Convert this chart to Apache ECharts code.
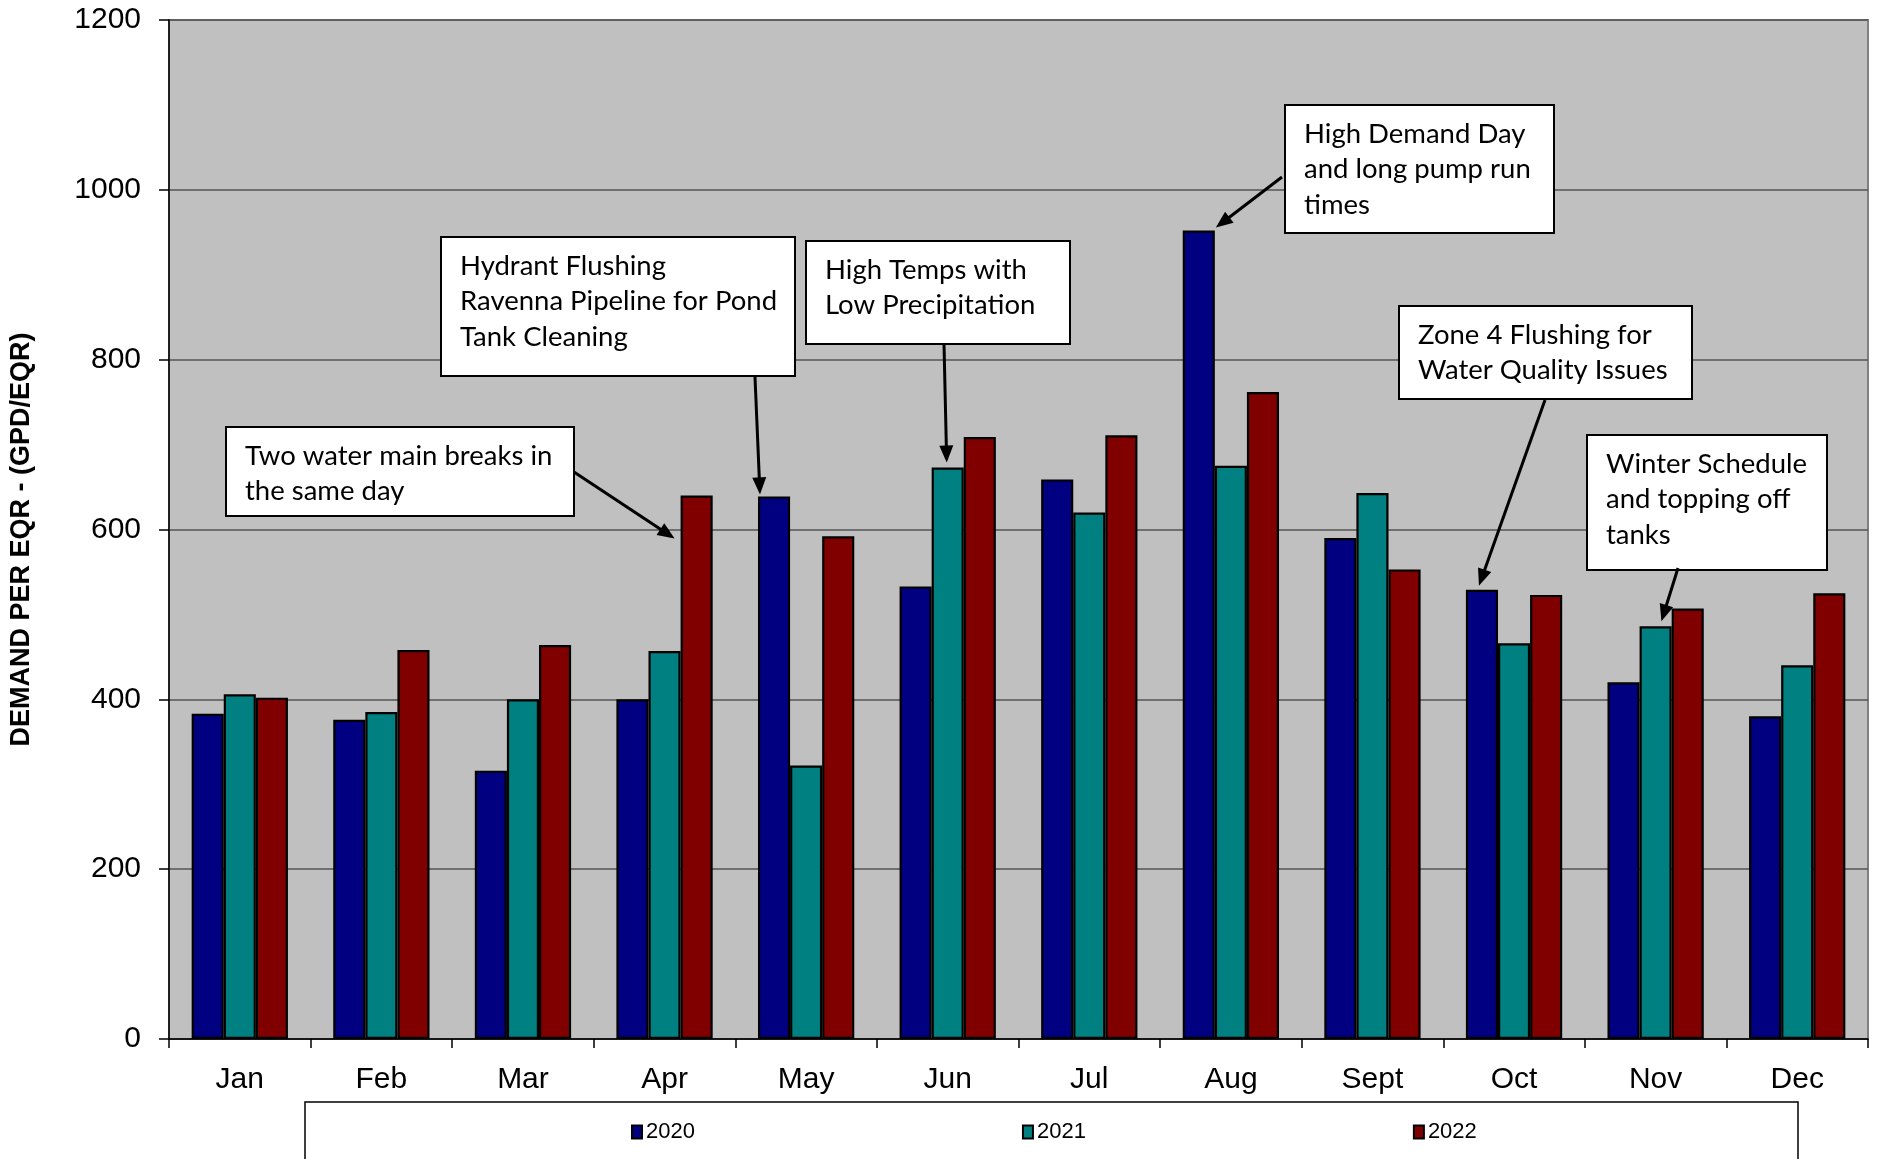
<!DOCTYPE html>
<html>
<head>
<meta charset="utf-8">
<script src="https://cdn.jsdelivr.net/npm/echarts@6/dist/echarts.min.js"></script>
<style>
  html, body { margin: 0; padding: 0; background: #ffffff; }
  #chart { width: 1877px; height: 1159px; }
</style>
</head>
<body>
<div id="chart"></div>
<script>
// Monthly demand per EQR (GPD/EQR) for three years
const months = ['Jan', 'Feb', 'Mar', 'Apr', 'May', 'Jun', 'Jul', 'Aug', 'Sept', 'Oct', 'Nov', 'Dec'];
const years = ['2020', '2021', '2022'];
const demand2020 = [383, 376, 316, 400, 639, 533, 659, 952, 590, 529, 420, 380];
const demand2021 = [406, 385, 400, 457, 322, 673, 620, 675, 643, 466, 486, 440];
const demand2022 = [402, 458, 464, 640, 592, 709, 711, 762, 553, 523, 507, 525];
const yAxisRange = { min: 0, max: 1200, interval: 200 };

// Callout notes: text and the bar (series index + month) each one points at
const noteTexts = [
  ['Two water main breaks in', 'the same day'],
  ['Hydrant Flushing', 'Ravenna Pipeline for Pond', 'Tank Cleaning'],
  ['High Temps with', 'Low Precipitation'],
  ['High Demand Day', 'and long pump run', 'times'],
  ['Zone 4 Flushing for', 'Water Quality Issues'],
  ['Winter Schedule', 'and topping off', 'tanks']
];
const noteTargets = [
  { series: 2, month: 'Apr' },
  { series: 0, month: 'May' },
  { series: 1, month: 'Jun' },
  { series: 0, month: 'Aug' },
  { series: 0, month: 'Oct' },
  { series: 1, month: 'Nov' }
];

// Callout layout (pixels): box, arrow tail, and arrow tip offset relative to the bar
// tip = (barLeft + fx * barWidth + dx, barTop + dy)
const noteLayout = [
  { box: [226, 427, 348, 89],  tail: [574, 472],  fx: 0,   dx: -6, dy: 43 },
  { box: [441, 237, 354, 139], tail: [755, 377],  fx: 0,   dx: 2,  dy: -2 },
  { box: [806, 241, 264, 103], tail: [944, 344],  fx: 0.5, dx: -1, dy: -5 },
  { box: [1285, 105, 269, 128], tail: [1282, 177], fx: 1,  dx: 1,  dy: -3 },
  { box: [1399, 306, 293, 93], tail: [1545, 400], fx: 0.5, dx: -3, dy: -4 },
  { box: [1587, 435, 240, 135], tail: [1678, 568], fx: 0.68, dx: 0, dy: -5 }
];

const seriesData = [demand2020, demand2021, demand2022];
const seriesColors = ['#000080', '#008080', '#800000'];
const BAR_CATEGORY_GAP = 0.32;

const chart = echarts.init(document.getElementById('chart'), null, { renderer: 'canvas' });

const option = {
  animation: false,
  backgroundColor: '#ffffff',
  grid: {
    left: 169, right: 9, top: 20, bottom: 120,
    show: true,
    backgroundColor: '#c0c0c0',
    borderColor: '#808080',
    borderWidth: 2
  },
  legend: {
    data: years,
    left: 631,
    top: 1121,
    padding: 0,
    itemGap: 327,
    itemWidth: 10,
    itemHeight: 13,
    icon: 'rect',
    textStyle: { fontFamily: 'Liberation Sans', fontSize: 22, color: '#000', padding: [0, 0, 0, -1] }
  },
  xAxis: {
    type: 'category',
    data: months,
    boundaryGap: true,
    axisLine: { show: true, lineStyle: { color: '#000', width: 1.5 } },
    axisTick: { show: true, length: 9, alignWithLabel: false, lineStyle: { color: '#000', width: 1.5 } },
    axisLabel: { fontFamily: 'Liberation Sans', fontSize: 30, color: '#000', margin: 26 },
    splitLine: { show: false }
  },
  yAxis: {
    type: 'value',
    min: yAxisRange.min,
    max: yAxisRange.max,
    interval: yAxisRange.interval,
    name: 'DEMAND PER EQR - (GPD/EQR)',
    nameLocation: 'middle',
    nameGap: 134,
    nameTextStyle: {
      fontFamily: 'Liberation Sans', fontSize: 27, fontWeight: 'bold', color: '#000',
      padding: [0, 20, 0, 0]
    },
    axisLine: { show: true, lineStyle: { color: '#000', width: 1.5 } },
    axisTick: { show: true, length: 10, lineStyle: { color: '#000', width: 1.5 } },
    axisLabel: {
      fontFamily: 'Liberation Sans', fontSize: 30, color: '#000', margin: 28,
      formatter: (v) => String(v)
    },
    splitLine: { show: true, lineStyle: { color: '#555555', width: 1.5 } }
  },
  series: years.map((y, i) => ({
    name: y,
    type: 'bar',
    data: seriesData[i],
    barGap: '0%',
    barCategoryGap: (BAR_CATEGORY_GAP * 100) + '%',
    itemStyle: { color: seriesColors[i], borderColor: '#000', borderWidth: 2.2 },
    emphasis: { disabled: true }
  }))
};

chart.setOption(option);

// Build callout boxes and arrows, anchoring each arrow tip to its bar via the axes
function buildNotes() {
  const elements = [];
  // legend frame
  elements.push({
    type: 'rect', z: 0, silent: true,
    shape: { x: 305, y: 1102, width: 1493, height: 80 },
    style: { fill: '#ffffff', stroke: '#000', lineWidth: 1.5 }
  });

  const c0 = chart.convertToPixel({ xAxisIndex: 0 }, months[0]);
  const c1 = chart.convertToPixel({ xAxisIndex: 0 }, months[1]);
  const band = c1 - c0;
  const groupW = band * (1 - BAR_CATEGORY_GAP);
  const barW = groupW / seriesData.length;

  noteTexts.forEach((lines, k) => {
    const t = noteTargets[k];
    const L = noteLayout[k];
    const mi = months.indexOf(t.month);
    const cx = chart.convertToPixel({ xAxisIndex: 0 }, t.month);
    const barLeft = cx - groupW / 2 + t.series * barW;
    const barTop = chart.convertToPixel({ yAxisIndex: 0 }, seriesData[t.series][mi]);
    const tip = [barLeft + L.fx * barW + L.dx, barTop + L.dy];
    const tail = L.tail;

    // box
    elements.push({
      type: 'rect', z: 10, silent: true,
      shape: { x: L.box[0], y: L.box[1], width: L.box[2], height: L.box[3] },
      style: { fill: '#ffffff', stroke: '#000', lineWidth: 2 }
    });
    elements.push({
      type: 'text', z: 11, silent: true,
      x: L.box[0] + 19, y: L.box[1] + 11,
      style: {
        text: lines.join('\n'),
        font: '27.5px Lato',
        lineHeight: 35.5,
        fill: '#000',
        verticalAlign: 'top',
        align: 'left'
      }
    });

    // arrow shaft + head
    const dxv = tip[0] - tail[0], dyv = tip[1] - tail[1];
    const len = Math.sqrt(dxv * dxv + dyv * dyv);
    const ux = dxv / len, uy = dyv / len;
    const headLen = 17, headHalf = 7;
    const baseX = tip[0] - ux * headLen, baseY = tip[1] - uy * headLen;
    elements.push({
      type: 'line', z: 12, silent: true,
      shape: { x1: tail[0], y1: tail[1], x2: baseX + ux * 2, y2: baseY + uy * 2 },
      style: { stroke: '#000', lineWidth: 3 }
    });
    elements.push({
      type: 'polygon', z: 12, silent: true,
      shape: {
        points: [
          [tip[0], tip[1]],
          [baseX - uy * headHalf, baseY + ux * headHalf],
          [baseX + uy * headHalf, baseY - ux * headHalf]
        ]
      },
      style: { fill: '#000' }
    });
  });
  chart.setOption({ graphic: { elements: elements } });
}

buildNotes();
</script>
</body>
</html>
